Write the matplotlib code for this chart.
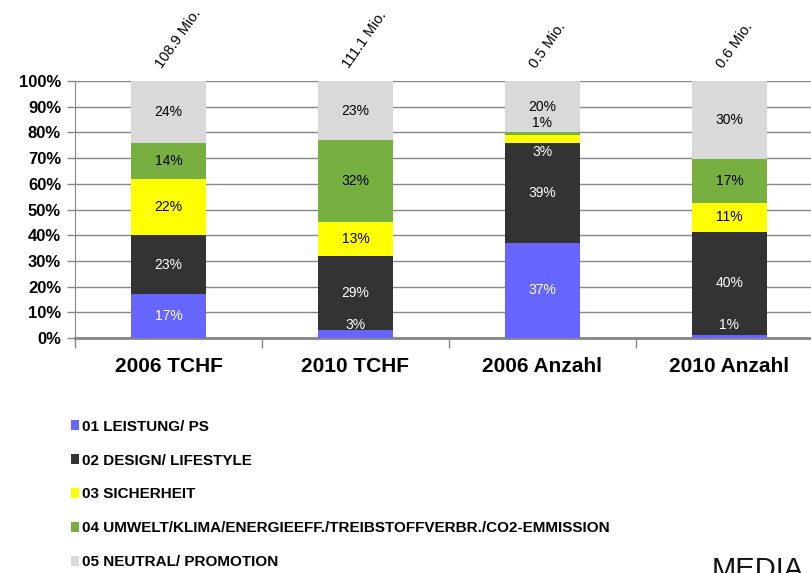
import numpy as np
import matplotlib
matplotlib.use('Agg')
import matplotlib.pyplot as plt
from matplotlib.patches import Patch

plt.rcParams['font.family'] = ['Liberation Sans', 'DejaVu Sans']

# --- données ---
categories = ["2006 TCHF", "2010 TCHF", "2006 Anzahl", "2010 Anzahl"]
totals = ["108.9 Mio.", "111.1 Mio.", "0.5 Mio.", "0.6 Mio."]
series = ["01 LEISTUNG/ PS", "02 DESIGN/ LIFESTYLE", "03 SICHERHEIT",
          "04 UMWELT/KLIMA/ENERGIEEFF./TREIBSTOFFVERBR./CO2-EMMISSION",
          "05 NEUTRAL/ PROMOTION"]
leistung = [17, 3, 37, 1]
design = [23, 29, 39, 40]
sicherheit = [22, 13, 3, 11]
umwelt = [14, 32, 1, 17]
neutral = [24, 23, 20, 30]

colors = ['#6666FF', '#333333', '#FFFF00', '#77B041', '#D9D9D9']
text_colors = ['white', 'white', 'black', 'black', 'black']

# étiquettes déplacées (petits segments), (barre, série) -> hauteur en %
label_shift = {(1, 0): 5.0, (3, 0): 5.0, (2, 2): 72.5, (2, 3): 83.5}
label_color_override = {(2, 2): 'white'}

values = np.array([leistung, design, sicherheit, umwelt, neutral], dtype=float)
pct = values / values.sum(axis=0) * 100

fig = plt.figure(figsize=(8.12, 5.73), dpi=100)
ax = fig.add_axes([75 / 812, 1 - 338 / 573, 748 / 812, 257 / 573])

x = np.arange(len(categories))
bottom = np.zeros(len(categories))
for s in range(len(series)):
    ax.bar(x, pct[s], width=0.4, bottom=bottom, color=colors[s],
           zorder=3, label=series[s])
    for i in range(len(categories)):
        y = label_shift.get((i, s), bottom[i] + pct[s][i] / 2)
        c = label_color_override.get((i, s), text_colors[s])
        ax.text(x[i], y, f"{int(values[s][i])}%", ha='center', va='center',
                fontsize=10, color=c, zorder=4)
    bottom += pct[s]

for i, t in enumerate(totals):
    ax.annotate(t, xy=(x[i], 100), xytext=(-7, 10), textcoords='offset points',
                rotation=55, rotation_mode='anchor', ha='left', va='center',
                fontsize=10.5, annotation_clip=False)

ax.set_xlim(-0.5, len(categories) - 0.5)
ax.set_ylim(0, 100)
ax.set_yticks(np.arange(0, 101, 10))
ax.set_yticklabels([f"{v}%" for v in range(0, 101, 10)], fontsize=12, fontweight='bold')
ax.set_xticks(x)
ax.set_xticklabels(categories, fontsize=15, fontweight='bold')
ax.tick_params(axis='x', length=0, pad=14)
ax.set_xticks(np.arange(-0.5, len(categories), 1), minor=True)
ax.tick_params(axis='x', which='minor', length=7, color='#868686', width=1)
ax.tick_params(axis='y', length=6, color='#868686', width=1, pad=4)

ax.grid(axis='y', color='#868686', linewidth=1, zorder=0)
for side in ['top', 'right']:
    ax.spines[side].set_visible(False)
ax.spines['left'].set_color('#868686')
ax.spines['bottom'].set_color('#868686')
ax.spines['bottom'].set_linewidth(2)

handles = [Patch(facecolor=colors[s], label=series[s]) for s in range(len(series))]
fig.legend(handles=handles, loc='upper left', bbox_to_anchor=(57 / 812, 1 - 406 / 573),
           frameon=False, handlelength=0.55, handleheight=0.65, handletextpad=0.2,
           labelspacing=1.3, prop={'weight': 'bold', 'size': 11})

fig.text(712 / 812, 1 - 556 / 573, "MEDIA", fontsize=21, va='top', ha='left', color='#111111')

plt.savefig('out.png', dpi=100)
plt.close()
